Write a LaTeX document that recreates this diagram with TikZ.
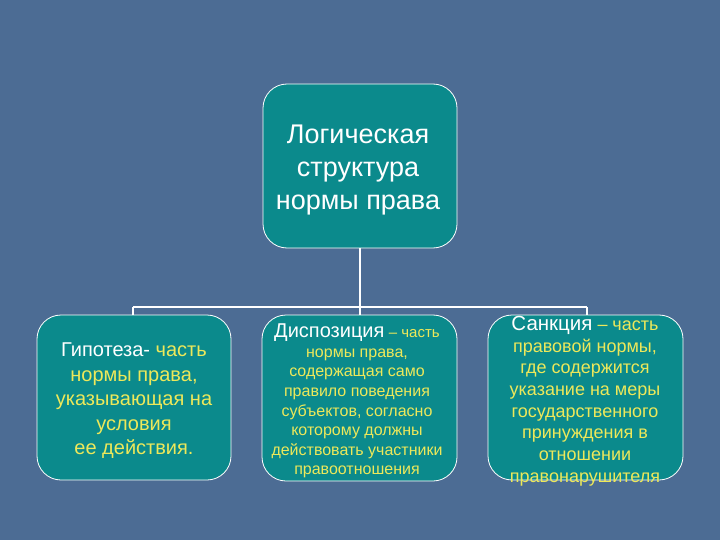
\documentclass[tikz,border=0pt]{standalone}
\usepackage{fontspec}
\setmainfont{Liberation Sans}
\definecolor{slide}{HTML}{4C6C94}
\definecolor{boxfill}{HTML}{0B8A8C}
\definecolor{txtyellow}{HTML}{EDE85A}
\begin{document}
\begin{tikzpicture}
    [x=1pt,y=-1pt,
     box/.style={draw=white,line width=0.8pt,fill=boxfill,rounded corners=24pt,
                 minimum width=194pt,minimum height=165pt},
     txt/.style={align=center,inner sep=0pt,text=txtyellow},
     link/.style={draw=white,line width=1.3pt}]
    \fill[slide] (0,0) rectangle (720,540);
    % boxes
    \node[box,minimum height=164pt] (logic) at (360,166) {};
    \node[box] (hypo) at (134,397.5) {};
    \node[box,minimum width=195pt,minimum height=166pt] (dispo) at (359.5,398) {};
    \node[box,minimum width=195pt] (sanc) at (585.5,397.5) {};
    % connectors
    \coordinate (busL) at (133,307);
    \coordinate (busM) at (360,307);
    \coordinate (busR) at (587,307);
    \draw[link] (logic.south) -- (busM);
    \draw[link] (busL) -- (busR);
    \foreach \from/\to in {busL/hypo,busM/dispo,busR/sanc}
      \draw[link] (\from) -- (\from |- \to.north);
    % texts
    \node[txt,text=white,font=\fontsize{27}{33}\selectfont] (logictxt) at (358,170)
      {Логическая\\структура\\нормы права};
    \node[txt,font=\fontsize{20}{24.5}\selectfont] (hypotxt) at (134,401)
      {\textcolor{white}{Гипотеза-} часть\\нормы права,\\указывающая на\\условия\\ее действия.};
    \node[txt,font=\fontsize{16}{19.6}\selectfont] (dispotxt) at (357,401)
      {{\fontsize{20}{19.6}\selectfont\textcolor{white}{Диспозиция}} {\fontsize{15}{19.6}\selectfont – часть}\\
       нормы права,\\содержащая само\\правило поведения\\субъектов, согласно\\
       которому должны\\действовать участники\\правоотношения};
    \node[txt,font=\fontsize{18}{21.7}\selectfont] (sanctxt) at (585,401)
      {{\fontsize{20.5}{21.7}\selectfont\textcolor{white}{Санкция}} – часть\\
       правовой нормы,\\где содержится\\указание на меры\\государственного\\
       принуждения в\\отношении\\правонарушителя};
\end{tikzpicture}
\end{document}
